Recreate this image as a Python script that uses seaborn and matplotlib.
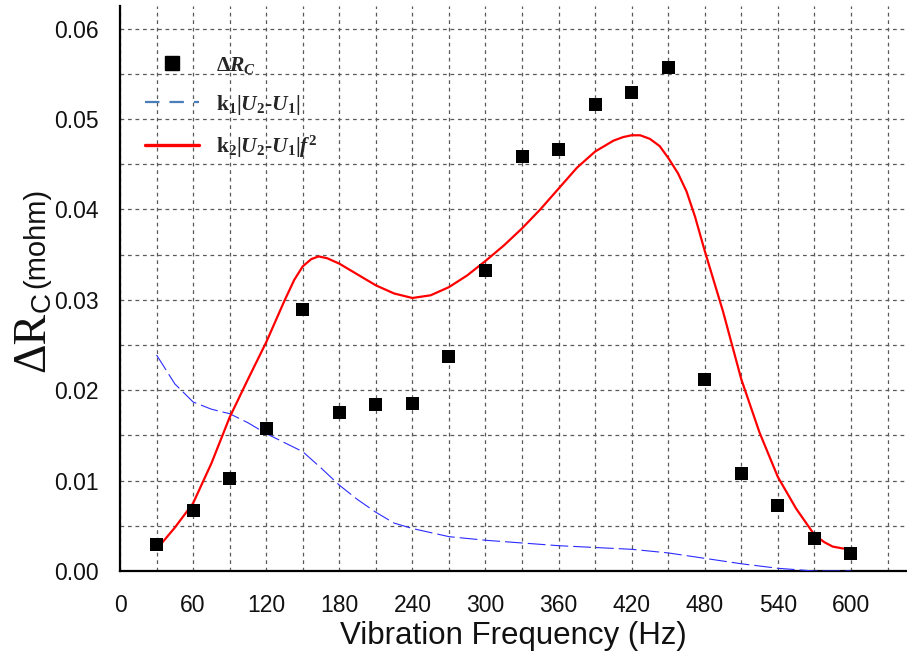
import matplotlib
matplotlib.use("Agg")
import matplotlib.pyplot as plt
from matplotlib.lines import Line2D
from matplotlib.ticker import MultipleLocator, FormatStrFormatter
import seaborn as sns

# Measured contact-resistance change at each vibration frequency
freq = [30, 60, 90, 120, 150, 180, 210, 240, 270, 300,
        330, 360, 390, 420, 450, 480, 510, 540, 570, 600]
delta_rc = [0.0029, 0.0067, 0.0102, 0.0158, 0.0289, 0.0175, 0.0184, 0.0185, 0.0237, 0.0332,
            0.0458, 0.0466, 0.0516, 0.0529, 0.0557, 0.0212, 0.0108, 0.0072, 0.0036, 0.0019]

# Model k2|U2-U1|f^2
red_f = [30, 45, 60, 75, 90, 105, 120, 135, 143, 150, 157, 163, 170, 180, 195, 210, 225,
         240, 255, 270, 285, 300, 315, 330, 345, 360, 375, 390, 405, 413, 420, 427, 435,
         443, 450, 458, 465, 472, 480, 495, 510, 525, 540, 555, 570, 578, 585, 593, 600]
red_v = [0.0024, 0.0048, 0.0075, 0.0119, 0.0170, 0.0212, 0.0253, 0.0299, 0.0322, 0.0337,
         0.0345, 0.0348, 0.0346, 0.0340, 0.0328, 0.0316, 0.0307, 0.0302, 0.0305, 0.0314,
         0.0327, 0.0343, 0.0360, 0.0379, 0.0400, 0.0423, 0.0446, 0.0464, 0.0476, 0.0480,
         0.0482, 0.0482, 0.0478, 0.0470, 0.0457, 0.0440, 0.0420, 0.0392, 0.0354, 0.0287,
         0.0212, 0.0153, 0.0104, 0.0069, 0.0040, 0.0032, 0.0027, 0.0025, 0.0024]

# Model k1|U2-U1|
blue_f = [30, 45, 60, 75, 90, 105, 120, 135, 150, 165, 180, 195, 210, 225, 240, 270,
          300, 330, 360, 390, 420, 450, 480, 510, 540, 570, 600]
blue_v = [0.0239, 0.0207, 0.0187, 0.0179, 0.0174, 0.0164, 0.0152, 0.0142, 0.0132, 0.0114,
          0.0095, 0.0079, 0.0065, 0.0053, 0.0047, 0.0038, 0.0034, 0.0031, 0.0028, 0.0026,
          0.0024, 0.0020, 0.0014, 0.0008, 0.0003, 0.0000, 0.0000]

x_ticks_major, x_ticks_minor = 60, 30
y_ticks_major, y_ticks_minor = 0.01, 0.005

sns.set_style("white")
plt.rcParams["font.family"] = ["Liberation Sans", "DejaVu Sans"]
plt.rcParams["mathtext.fontset"] = "custom"
plt.rcParams["mathtext.rm"] = "Liberation Serif:bold"
plt.rcParams["mathtext.bf"] = "Liberation Serif:bold"
plt.rcParams["mathtext.it"] = "Liberation Serif:italic:bold"

W, H = 907, 651
fig = plt.figure(figsize=(W / 100, H / 100), dpi=100)
ax = fig.add_axes([120 / W, (H - 571) / H, 1 - 120 / W, (571 - 6) / H])

sns.lineplot(x=blue_f, y=blue_v, ax=ax, color="#2b2bff", linewidth=0.8,
             linestyle=(0, (16, 4.5)), zorder=3)
sns.lineplot(x=red_f, y=red_v, ax=ax, color="#ff0000", linewidth=1.6, zorder=3)
sns.scatterplot(x=freq, y=delta_rc, ax=ax, marker="s", s=88, color="black",
                edgecolor="none", linewidth=0, zorder=4)

ax.set_xlim(0, 646)
ax.set_ylim(0, 0.0625)
ax.xaxis.set_major_locator(MultipleLocator(x_ticks_major))
ax.xaxis.set_minor_locator(MultipleLocator(x_ticks_minor))
ax.yaxis.set_major_locator(MultipleLocator(y_ticks_major))
ax.yaxis.set_minor_locator(MultipleLocator(y_ticks_minor))
ax.yaxis.set_major_formatter(FormatStrFormatter("%.2f"))

ax.grid(True, which="both", color="#5a5a5a", linestyle=(0, (3, 3)), linewidth=0.9)
ax.set_axisbelow(True)

for side in ("top", "right"):
    ax.spines[side].set_visible(False)
for side in ("left", "bottom"):
    ax.spines[side].set_linewidth(1.6)
    ax.spines[side].set_color("black")

ax.tick_params(which="major", direction="out", length=9.5, width=1.6, color="black",
               labelsize=16.5, labelcolor="#111111")
ax.tick_params(axis="x", which="major", pad=7)
ax.tick_params(axis="y", which="major", pad=6)
ax.tick_params(which="minor", direction="out", length=5, width=1.6, color="black")

ax.set_xlabel("Vibration Frequency (Hz)", fontsize=22.5, labelpad=3, color="#111111")
ax.set_ylabel("")

# y-axis title assembled from a serif symbol part and a sans unit part
fig.text(44 / W, (H - 372) / H, "ΔR", rotation=90, rotation_mode="anchor",
         ha="left", va="baseline", fontsize=33, family="Liberation Serif", color="#111111")
fig.text(50 / W, (H - 312) / H, "C", rotation=90, rotation_mode="anchor",
         ha="left", va="baseline", fontsize=20, family="Liberation Sans", color="#111111")
fig.text(44 / W, (H - 288) / H, "(mohm)", rotation=90, rotation_mode="anchor",
         ha="left", va="baseline", fontsize=21, family="Liberation Sans", color="#111111")

handles = [
    Line2D([], [], marker="s", linestyle="none", color="black", markersize=10),
    Line2D([], [], color="#4a7ebb", linewidth=1.6, dashes=(6.5, 4.5)),
    Line2D([], [], color="#ff0000", linewidth=2.4),
]
labels = [r"$\mathrm{\Delta}R_C$", r"k$_1$|$U_2$-$U_1$|", r"k$_2$|$U_2$-$U_1$|$f^2$"]
leg = ax.legend(handles, labels, loc="upper left", bbox_to_anchor=(25 / 787, (565 - 49) / 565),
                frameon=False, borderpad=0, borderaxespad=0, handlelength=2.5,
                handletextpad=0.8, labelspacing=0.78,
                prop={"family": "Liberation Serif", "weight": "bold", "size": 15.5})

fig.savefig("out.png", dpi=100)
